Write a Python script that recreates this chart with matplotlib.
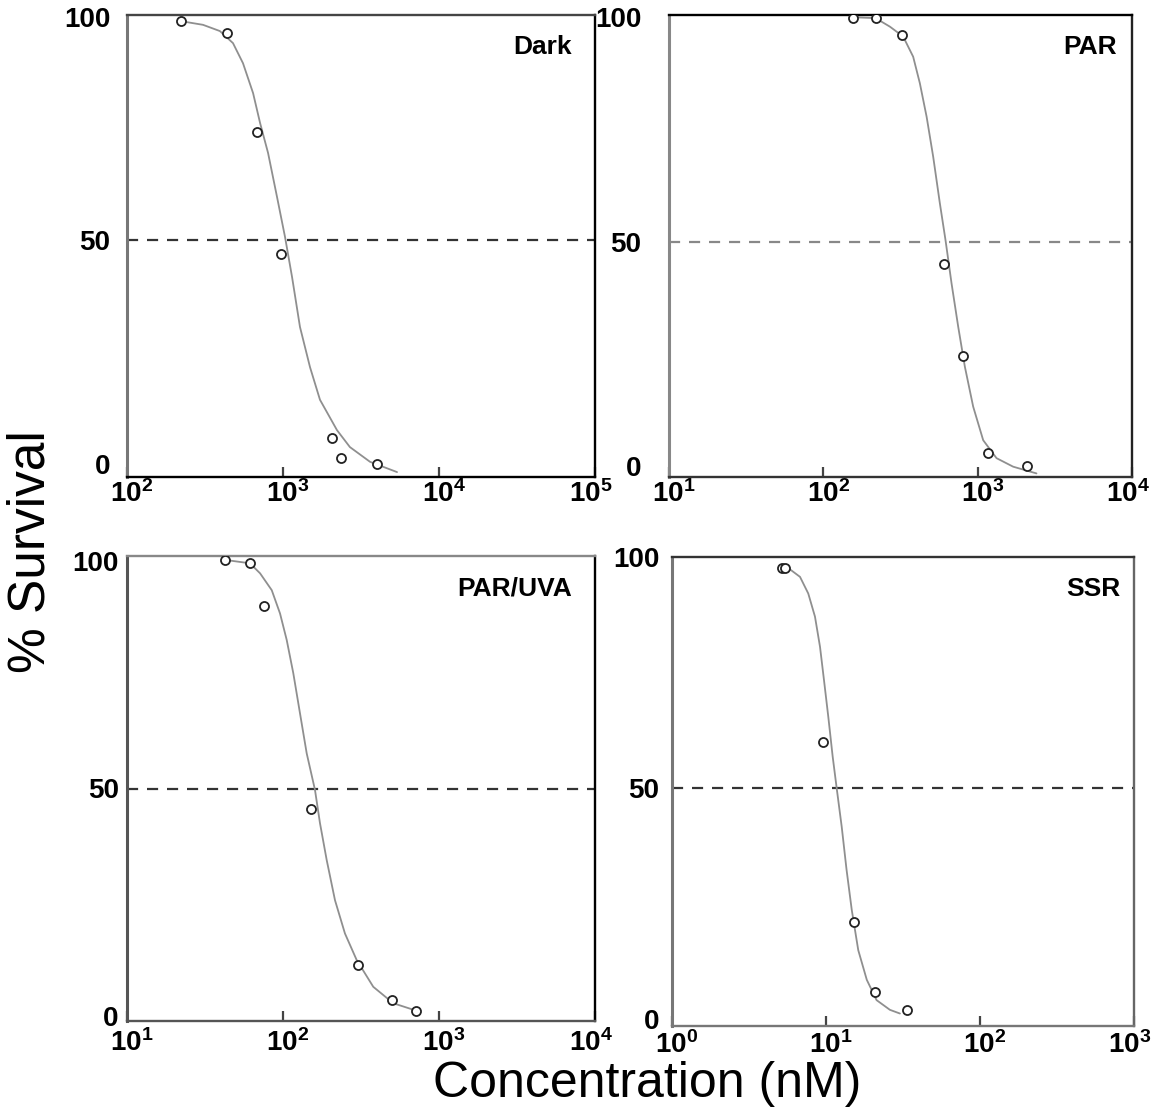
import matplotlib
matplotlib.use('Agg')
import matplotlib.pyplot as plt
from matplotlib.transforms import ScaledTranslation

# ---------------- data ----------------
dark_conc = [222, 437, 681, 971, 2061, 2355, 4010]
dark_surv = [99.2, 96.5, 74.3, 47.0, 5.7, 1.3, 0.0]
dark_fit_conc = [242, 307, 394, 478, 554, 643, 713, 802, 916, 1030, 1143, 1285,
                 1490, 1726, 2218, 2685, 3614, 5383]
dark_fit_surv = [98.9, 98.3, 96.9, 94.2, 89.7, 83.0, 76.3, 69.6, 59.7, 50.8, 41.8, 30.6,
                 21.6, 14.3, 7.5, 3.7, 0.4, -1.9]

par_conc = [155, 218, 321, 607, 805, 1169, 2075]
par_surv = [99.8, 99.8, 96.0, 44.9, 24.5, 2.8, 0.0]
par_fit_conc = [155, 218, 270, 329, 382, 422, 467, 515, 569, 619, 677, 748,
                826, 935, 1086, 1325, 1698, 2404]
par_fit_surv = [100.0, 99.8, 97.9, 95.7, 91.2, 85.3, 77.8, 68.9, 58.5, 50.3, 40.7, 31.0,
                22.1, 13.2, 5.7, 1.7, -0.2, -1.7]

uva_conc = [42.5, 61.4, 75.9, 150.7, 303, 500, 710]
uva_surv = [100.1, 99.4, 90.1, 45.6, 11.3, 3.6, 1.2]
uva_fit_conc = [45.7, 61.4, 71.3, 84.7, 95.7, 105.6, 116.4, 128.5, 141.9, 160.3, 172.6,
                190.6, 215.4, 249.5, 296.4, 379, 509, 755]
uva_fit_surv = [100.0, 99.4, 97.2, 93.5, 88.4, 82.6, 75.3, 66.5, 57.7, 49.7, 42.4,
                34.3, 25.5, 18.2, 12.4, 6.5, 2.9, 1.0]

ssr_conc = [5.2, 5.4, 9.6, 15.3, 20.8, 33.4]
ssr_surv = [97.6, 97.6, 59.9, 21.1, 5.9, 2.0]
ssr_fit_conc = [5.2, 5.69, 6.78, 7.67, 8.48, 9.14, 9.70, 10.35, 11.05, 11.74, 12.65,
                13.6, 14.7, 16.2, 18.4, 21.3, 26.0, 30.2]
ssr_fit_surv = [97.8, 97.6, 95.7, 92.1, 87.1, 80.6, 73.4, 65.4, 56.8, 49.9, 41.6,
                32.3, 23.6, 14.9, 8.5, 4.1, 2.0, 1.2]

panel_names = ['Dark', 'PAR', 'PAR/UVA', 'SSR']
x_decades = [(2, 5), (1, 4), (1, 4), (0, 3)]
y_ticks = [0, 50, 100]
half_line = 50

# ---------------- style / layout ----------------
plt.rcParams['mathtext.fontset'] = 'custom'
plt.rcParams['mathtext.rm'] = 'Liberation Sans:bold'
plt.rcParams['mathtext.bf'] = 'Liberation Sans:bold'

tick_family = ['Liberation Sans Narrow', 'Liberation Sans', 'DejaVu Sans']
W, H = 1158, 1111

def rect(l, t, r, b):
    return [l / W, 1 - b / H, (r - l) / W, (b - t) / H]

layout = [
    dict(rect=rect(127, 15, 595, 477), ylim=(-3, 100.5), ypad=12, xpad=2,
         spines=dict(left='#777777', top='#444444', right='#000000', bottom='#000000'),
         dash='#333333', lx=0.951),
    dict(rect=rect(669, 15, 1132, 477), ylim=(-2.5, 100.5), ypad=20, xpad=2,
         spines=dict(left='#888888', top='#000000', right='#222222', bottom='#333333'),
         dash='#888888', lx=0.968),
    dict(rect=rect(127, 556, 595, 1021), ylim=(-1, 101), ypad=6, xpad=6,
         spines=dict(left='#555555', top='#888888', right='#000000', bottom='#555555'),
         dash='#333333', lx=0.951),
    dict(rect=rect(672, 557, 1134, 1026), ylim=(-1.5, 100), ypad=9, xpad=4,
         spines=dict(left='#777777', top='#333333', right='#666666', bottom='#777777'),
         dash='#333333', lx=0.970),
]

series = [
    (dark_conc, dark_surv, dark_fit_conc, dark_fit_surv),
    (par_conc, par_surv, par_fit_conc, par_fit_surv),
    (uva_conc, uva_surv, uva_fit_conc, uva_fit_surv),
    (ssr_conc, ssr_surv, ssr_fit_conc, ssr_fit_surv),
]

fig = plt.figure(figsize=(W / 100, H / 100), dpi=100)
fig.patch.set_facecolor('white')
shift_right = ScaledTranslation(5 / 100, 0, fig.dpi_scale_trans)
shift_left = ScaledTranslation(-4 / 100, 0, fig.dpi_scale_trans)

for name, dec, lay, (xc, ys, fx, fy) in zip(panel_names, x_decades, layout, series):
    ax = fig.add_axes(lay['rect'])
    ax.set_xscale('log')
    ax.set_xlim(10 ** dec[0], 10 ** dec[1])
    ax.set_ylim(*lay['ylim'])

    ax.axhline(half_line, color=lay['dash'], lw=1.6, linestyle=(0, (5.0, 4.0)), zorder=1)
    ax.plot(fx, fy, color='#8f8f8f', lw=1.3, zorder=2, solid_capstyle='round',
            solid_joinstyle='round')
    ax.plot(xc, ys, linestyle='none', marker='o', ms=6.5, mfc='white',
            mec='#222222', mew=1.3, zorder=3)

    ticks = [10 ** e for e in range(dec[0], dec[1] + 1)]
    ax.set_xticks(ticks)
    ax.set_xticklabels([r'$\mathdefault{10^{%d}}$' % e for e in range(dec[0], dec[1] + 1)])
    ax.xaxis.set_minor_locator(matplotlib.ticker.NullLocator())
    ax.set_yticks(y_ticks)
    ax.set_yticklabels([str(v) for v in y_ticks])

    ax.tick_params(axis='x', direction='in', length=7, width=1.6, color='#444444',
                   pad=lay['xpad'], labelsize=20)
    ax.tick_params(axis='y', length=0, pad=lay['ypad'], labelsize=20)
    for lab in ax.get_xticklabels() + ax.get_yticklabels():
        lab.set_family(tick_family)
        lab.set_fontweight('bold')
    xl = ax.get_xticklabels()
    for lab in xl[:-1]:
        lab.set_transform(lab.get_transform() + shift_right)
    xl[-1].set_transform(xl[-1].get_transform() + shift_left)

    for side, col in lay['spines'].items():
        ax.spines[side].set_color(col)
        ax.spines[side].set_linewidth(2.2 if side == 'left' else 1.7)

    ax.text(lay['lx'], 0.931, name, transform=ax.transAxes, ha='right', va='center',
            fontsize=19, fontweight='bold', family=['Liberation Sans', 'DejaVu Sans'])

fig.text(31 / W, 1 - 552 / H, '% Survival', rotation=90, ha='center', va='center',
         fontsize=37, family=['Liberation Sans', 'DejaVu Sans'])
fig.text(647 / W, 1 - 1097 / H, 'Concentration (nM)', ha='center', va='baseline',
         fontsize=36, family=['Liberation Sans', 'DejaVu Sans'])

fig.savefig('out.png', dpi=100, facecolor='white')
